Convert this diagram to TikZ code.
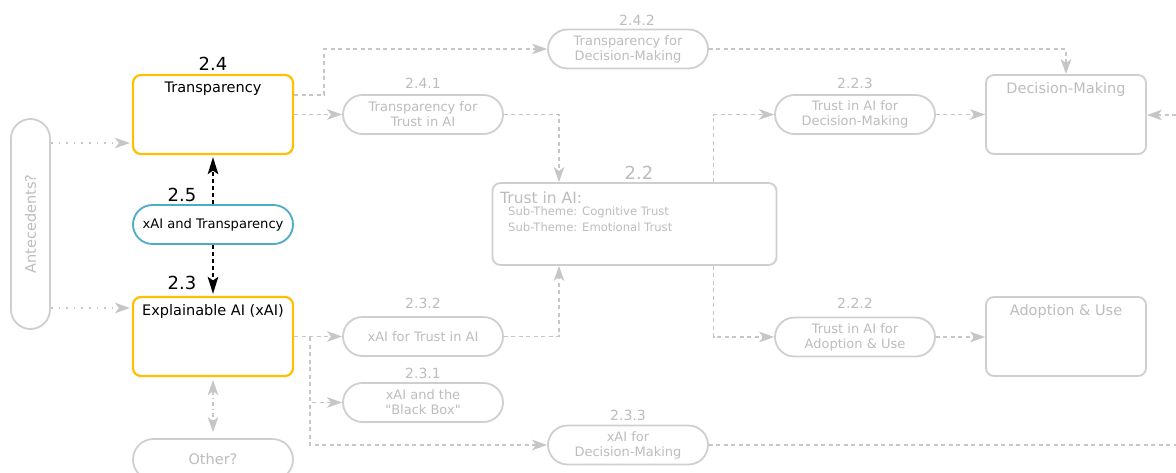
\documentclass[tikz,border=0pt]{standalone}
\usepackage{fontspec}
\setmainfont{DejaVu Sans}
\usetikzlibrary{arrows.meta}

\definecolor{amber}{HTML}{FFC000}
\definecolor{teal}{HTML}{4BACC6}
\definecolor{edgegray}{HTML}{CFCFCF}
\definecolor{linegray}{HTML}{C6C6C6}
\definecolor{txtgray}{HTML}{BDBDBD}

\newcommand\fzTitle{\fontsize{14.5}{17}\selectfont}
\newcommand\fzPill{\fontsize{13}{15}\selectfont}
\newcommand\fzSub{\fontsize{11.6}{14}\selectfont}
\newcommand\fzNum{\fontsize{18}{20}\selectfont}
\newcommand\fzSubNum{\fontsize{14}{17}\selectfont}

\tikzset{
  themebox/.style={draw=amber, line width=2.2pt, rounded corners=8pt,
    minimum width=160pt, minimum height=79pt, inner sep=0pt},
  greybox/.style={draw=edgegray, line width=1.8pt, rounded corners=8pt,
    minimum width=160pt, minimum height=79pt, inner sep=0pt},
  pill/.style={draw=edgegray, line width=1.8pt, rounded corners=19.5pt,
    minimum width=160pt, minimum height=39pt, inner sep=0pt,
    text=txtgray, align=center, font=\fzPill},
  bluepill/.style={pill, draw=teal, text=black},
  titletext/.style={inner sep=0pt, font=\fzTitle},
  numtext/.style={inner sep=0pt, font=\fzNum, text=black},
  subnum/.style={inner sep=0pt, font=\fzSubNum, text=txtgray},
  flow/.style={draw=linegray, line width=1.6pt, dash pattern=on 4pt off 3.5pt,
    -{Stealth[length=15pt,width=10.5pt,inset=4pt]}},
  flowplain/.style={draw=linegray, line width=1.6pt, dash pattern=on 4pt off 3.5pt},
  dotflow/.style={draw=linegray, line width=1.6pt, dash pattern=on 1.6pt off 6pt,
    -{Stealth[length=15pt,width=10.5pt,inset=4pt]}},
  blackflow/.style={draw=black, line width=2.2pt, dash pattern=on 4pt off 3pt,
    -{Stealth[length=17pt,width=10.5pt,inset=3.5pt]}},
  twoway/.style={draw=linegray, line width=1.6pt,
    dash pattern=on 4pt off 3pt on 1.2pt off 3pt,
    {Stealth[length=15pt,width=10.5pt,inset=4pt]}-{Stealth[length=15pt,width=10.5pt,inset=4pt]}},
}

\begin{document}
\begin{tikzpicture}[x=1pt,y=-1pt]
\useasboundingbox (0,0) rectangle (1176,472);
\clip (0,0) rectangle (1176,472);
\fill[white] (0,0) rectangle (1176,472);

% ---- left column ----
\node[themebox] (trans) at (213,114.5) {};
\node[titletext] (transT) at (213,89) {Transparency};
\node[numtext] (n24) at (213,64) {2.4};

\node[bluepill] (xt) at (213,224.5) {\fontsize{13.1}{15}\selectfont xAI and Transparency};
\node[numtext] (n25) at (182,195) {2.5};

\node[themebox] (xai) at (213,336.5) {};
\node[titletext] (xaiT) at (213,311) {Explainable AI (xAI)};
\node[numtext] (n23) at (182,283) {2.3};

\node[pill, minimum height=41pt, rounded corners=20.5pt] (other) at (213,459.5) {\fzTitle Other?};

\node[draw=edgegray, line width=1.8pt, rounded corners=19.5pt,
  minimum width=39pt, minimum height=210pt, inner sep=0pt] (ante) at (30.5,224) {};
\node[titletext, text=txtgray, rotate=90] (anteT) at (30.5,224) {Antecedents?};

% ---- transparency branch ----
\node[pill] (t241) at (423,114.5) {Transparency for\\Trust in AI};
\node[subnum] (n241) at (423,83) {2.4.1};
\node[pill] (t242) at (628,49) {Transparency for\\Decision-Making};
\node[subnum] (n242) at (637,20) {2.4.2};

% ---- trust ----
\node[draw=edgegray, line width=1.8pt, rounded corners=8pt,
  minimum width=284pt, minimum height=82pt, inner sep=0pt] (trust) at (634.5,224) {};
\node[numtext, text=txtgray] (n22) at (639,173) {2.2};
\node[inner sep=0pt, font=\fontsize{15.5}{18}\selectfont, text=txtgray, anchor=west] (trustT) at (500,198) {Trust in AI:};
\node[inner sep=0pt, font=\fzSub, text=txtgray, anchor=west] (sub1) at (508,212.5) {Sub-Theme: Cognitive Trust};
\node[inner sep=0pt, font=\fzSub, text=txtgray, anchor=west] (sub2) at (508,227.5) {Sub-Theme: Emotional Trust};

\node[pill] (t223) at (855,114.5) {Trust in AI for\\Decision-Making};
\node[subnum] (n223) at (855,83) {2.2.3};
\node[pill] (t222) at (855,337) {Trust in AI for\\Adoption \& Use};
\node[subnum] (n222) at (855,303) {2.2.2};

\node[greybox] (dm) at (1066,114.5) {};
\node[titletext, text=txtgray] (dmT) at (1066,89) {Decision-Making};
\node[greybox] (adopt) at (1066,336.5) {};
\node[titletext, text=txtgray] (adoptT) at (1066,311) {Adoption \& Use};

% ---- xAI branch ----
\node[pill] (t232) at (423,336.5) {xAI for Trust in AI};
\node[subnum] (n232) at (423,303) {2.3.2};
\node[pill] (t231) at (423,402.5) {xAI and the\\\textquotedbl Black Box\textquotedbl};
\node[subnum] (n231) at (423,373) {2.3.1};
\node[pill] (t233) at (628,445) {xAI for\\Decision-Making};
\node[subnum] (n233) at (628,415) {2.3.3};

% ---- free ends ----
\coordinate (split) at (310,337);
\coordinate (rin) at (1176,115);
\coordinate (rout) at (1176,445);

% ---- connectors ----
\draw[dotflow] (ante.east |- 0,143) -- ([xshift=-2pt]trans.west |- 0,143);
\draw[dotflow] (ante.east |- 0,308) -- ([xshift=-2pt]xai.west |- 0,308);

\draw[blackflow, shorten >=2pt] (xt.north) -- (trans.south);
\draw[blackflow, shorten >=2pt] (xt.south) -- (xai.north);
\draw[twoway, shorten <=3pt, shorten >=6pt] (xai.south) -- (other.north);

\draw[flow] (trans.east |- 0,95) -- ++(30,0) |- (t242.west);
\draw[flow] (trans.east |- t241.west) -- (t241.west);
\draw[flow] (t241.east) -| ([xshift=-75.5pt]trust.north);
\draw[flow] (t242.east) -| (dm.north);

\draw[flow] ([xshift=79pt]trust.north) |- (t223.west);
\draw[flow] ([xshift=79pt]trust.south) |- (t222.west);
\draw[flow] (t223.east) -- (dm.west);
\draw[flow] (t222.east) -- (adopt.west |- t222.east);
\draw[flow] (rin) -- (dm.east |- rin);

\draw[flow] (xai.east |- t232.west) -- (t232.west);
\draw[flow] (t232.east) -| ([xshift=-75.5pt]trust.south);
\draw[flow] (split) |- (t231.west);
\draw[flow] (split) |- (t233.west);
\draw[flowplain] (t233.east) -- (rout);

\end{tikzpicture}
\end{document}
